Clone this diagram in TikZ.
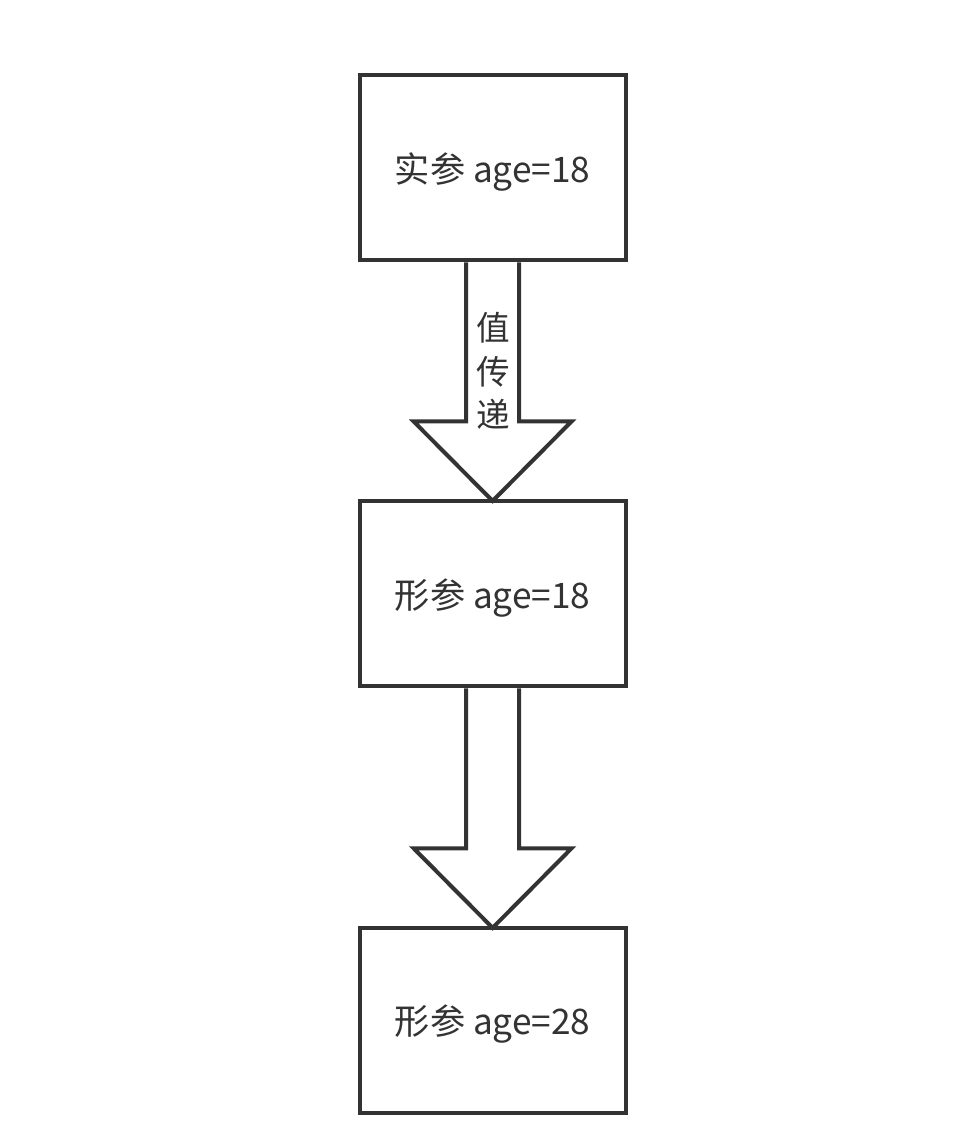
\documentclass[tikz,border=0pt]{standalone}
\usepackage{fontspec}
\setmainfont{Noto Sans CJK SC}
\usetikzlibrary{calc}
\definecolor{ink}{HTML}{333333}
\newcommand{\boxtext}[1]{\raisebox{-3pt}[\height][\depth]{#1}}
\begin{document}
\begin{tikzpicture}[x=0.75pt,y=-0.75pt,
  box/.style={draw=ink,line width=3pt,minimum width=199.5pt,minimum height=139pt,inner sep=0pt,outer sep=0pt,text=ink,font=\fontsize{26.4}{30}\selectfont},
  blockarrow/.style={draw=ink,line width=3pt,fill=white,line join=miter},
  vlabel/.style={text=ink,align=center,inner sep=0pt,font=\fontsize{25.2}{32.5}\selectfont}]
\useasboundingbox[fill=white] (0,0) rectangle (976,1137);
\node[box] (b1) at (492.6,167.7) {\boxtext{实参 age=18}};
\node[box] (b2) at (492.6,593.6) {\boxtext{形参 age=18}};
\node[box] (b3) at (492.6,1020.5) {\boxtext{形参 age=28}};
% block arrow 1
\draw[blockarrow] ($(b1.south)+(-26.5,2)$) -- ($(b1.south)+(-26.5,161)$) -- ($(b1.south)+(-79,161)$) -- (b2.north) -- ($(b1.south)+(79,161)$) -- ($(b1.south)+(26.5,161)$) -- ($(b1.south)+(26.5,2)$);
% block arrow 2
\draw[blockarrow] ($(b2.south)+(-26.5,2)$) -- ($(b2.south)+(-26.5,162)$) -- ($(b2.south)+(-79,162)$) -- (b3.north) -- ($(b2.south)+(79,162)$) -- ($(b2.south)+(26.5,162)$) -- ($(b2.south)+(26.5,2)$);
\node[vlabel] (lbl) at (493,371) {值\\传\\递};
\end{tikzpicture}
\end{document}
